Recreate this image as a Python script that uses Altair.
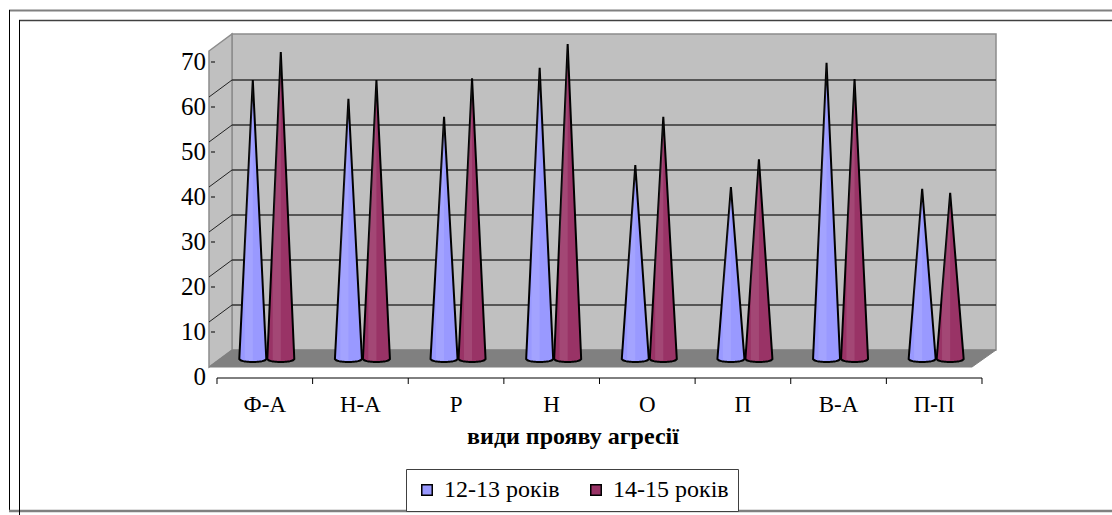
import altair as alt
import pandas as pd
import numpy as np

# ---------------- data ----------------
categories = ["Ф-А", "Н-А", "Р", "Н", "О", "П", "В-А", "П-П"]
series = ["12-13 років", "14-15 років"]
values_12_13 = [62.0, 57.8, 53.8, 64.7, 43.1, 38.2, 65.8, 37.8]
values_14_15 = [68.2, 62.0, 62.4, 70.0, 53.8, 44.4, 62.2, 36.9]
y_ticks = [0, 10, 20, 30, 40, 50, 60, 70]
colors = ["#9999FF", "#993366"]
x_title = "види прояву агресії"

# ---------------- layout ----------------
W, H = 1112, 515
CAT0, CATW = 264.8, 95.625      # pixel centre of first category, category width
Y0, PXU = 359.0, 4.5            # pixel of value 0 on the cone plane, pixels per unit
FONT = "Liberation Serif, Times New Roman, serif"


def X(px):
    return (px - CAT0) / CATW


def Y(py):
    return (Y0 - py) / PXU


xs = alt.Scale(domain=[X(0), X(W)], nice=False, zero=False)
ys = alt.Scale(domain=[Y(H), Y(0)], nice=False, zero=False)


def xenc(f):
    return alt.X(f, type="quantitative", scale=xs, axis=None)


def yenc(f):
    return alt.Y(f, type="quantitative", scale=ys, axis=None)


BACK = Y(350)       # back wall shift of value 0
FRONT = Y(367)      # front edge shift
LABEL_SHIFT = Y(377)

# ---------------- frame lines ----------------
frame = pd.DataFrame([
    dict(x=X(9), x2=X(W), y=Y(10.5), y2=Y(10.5), c="#808080", w=2),
    dict(x=X(9.5), x2=X(9.5), y=Y(10), y2=Y(511), c="#000000", w=1),
    dict(x=X(9), x2=X(W), y=Y(511), y2=Y(511), c="#808080", w=2.5),
    dict(x=X(19), x2=X(W), y=Y(20.5), y2=Y(20.5), c="#404040", w=1.5),
    dict(x=X(19.5), x2=X(19.5), y=Y(20), y2=Y(H), c="#000000", w=1),
])
frame_layer = alt.Chart(frame).mark_rule().encode(
    x=xenc("x"), x2="x2", y=yenc("y"), y2="y2",
    stroke=alt.Stroke("c:N", scale=None),
    strokeWidth=alt.StrokeWidth("w:Q", scale=None),
)

# ---------------- walls ----------------
back_wall = pd.DataFrame([dict(x=X(232), x2=X(996), y=Y(34), y2=Y(350))])
back_layer = alt.Chart(back_wall).mark_rect(
    fill="#C0C0C0", stroke="#8C8C8C", strokeWidth=1.5
).encode(x=xenc("x"), x2="x2", y=yenc("y"), y2="y2")

side_wall = pd.DataFrame([
    dict(x=X(209), y=Y(51), y2=Y(367)),
    dict(x=X(232), y=Y(34), y2=Y(350)),
])
side_layer = alt.Chart(side_wall).mark_area(
    fill="#C0C0C0", stroke="#8C8C8C", strokeWidth=1.5
).encode(x=xenc("x"), y=yenc("y"), y2="y2")

floor = pd.DataFrame([
    dict(y=Y(350), x=X(232), x2=X(996)),
    dict(y=Y(367), x=X(209), x2=X(972)),
])
floor_layer = alt.Chart(floor).mark_area(
    orient="horizontal", fill="#808080", stroke="#808080", strokeWidth=1
).encode(y=yenc("y"), x=xenc("x"), x2="x2")

# ---------------- gridlines ----------------
grid_vals = [v for v in y_ticks if 0 < v < 70]
grid = pd.DataFrame([dict(x=X(232), x2=X(996), y=v + BACK, y2=v + BACK) for v in grid_vals])
grid_layer = alt.Chart(grid).mark_rule(color="#333333", strokeWidth=1.4).encode(
    x=xenc("x"), x2="x2", y=yenc("y"), y2="y2")

diag = pd.DataFrame([dict(x=X(209), x2=X(232), y=v + FRONT, y2=v + BACK) for v in grid_vals])
diag_layer = alt.Chart(diag).mark_rule(color="#222222", strokeWidth=1).encode(
    x=xenc("x"), x2="x2", y=yenc("y"), y2="y2")

# ---------------- cones ----------------
OFF = [-12 / CATW, 16 / CATW]
HW = 13.5 / CATW
E = 3 / PXU
ts = np.linspace(-1, 1, 21)
rows = []
for s, vals in enumerate([values_12_13, values_14_15]):
    for i, v in enumerate(vals):
        for t in ts:
            rows.append(dict(
                cone=f"{s}-{i}", series=series[s],
                x=i + OFF[s] + t * HW,
                y=v * (1 - abs(t)),
                y2=-E * np.sqrt(max(0.0, 1 - t * t)),
            ))
cones = pd.DataFrame(rows)
cone_layer = alt.Chart(cones).mark_area(
    stroke="black", strokeWidth=2, opacity=1
).encode(
    x=xenc("x"), y=yenc("y"), y2="y2",
    color=alt.Color(
        "series:N",
        scale=alt.Scale(domain=series, range=colors),
        legend=alt.Legend(
            title=None, orient="none", legendX=406, legendY=469,
            direction="horizontal", symbolType="square", symbolSize=110,
            symbolStrokeColor="black", symbolStrokeWidth=1.5, symbolOpacity=1,
            labelFont=FONT, labelFontSize=24, labelColor="black",
            labelOffset=5, columnPadding=24, padding=9,
            strokeColor="#404040", fillColor="white", labelLimit=400,
        ),
    ),
    detail="cone:N",
)

# subtle highlight stripe on each cone (shading)
hl_rows = []
for s, vals in enumerate([values_12_13, values_14_15]):
    for i, v in enumerate(vals):
        for t in np.linspace(-0.6, 0.0, 7):
            hl_rows.append(dict(
                cone=f"{s}-{i}",
                x=i + OFF[s] + t * HW,
                y=v * (1 - abs(t)),
                y2=-E * np.sqrt(max(0.0, 1 - t * t)) * 0.5,
            ))
hl = pd.DataFrame(hl_rows)
hl_layer = alt.Chart(hl).mark_area(fill="white", fillOpacity=0.10).encode(
    x=xenc("x"), y=yenc("y"), y2="y2", detail="cone:N")

# ---------------- axes (drawn) ----------------
xaxis = pd.DataFrame([dict(x=X(217), x2=X(982), y=Y(378), y2=Y(378))]
                     + [dict(x=i - 0.5, x2=i - 0.5, y=Y(378), y2=Y(384)) for i in range(len(categories) + 1)])
xaxis_layer = alt.Chart(xaxis).mark_rule(color="black", strokeWidth=1).encode(
    x=xenc("x"), x2="x2", y=yenc("y"), y2="y2")

yt = pd.DataFrame([dict(x=X(211), x2=X(215), y=v + LABEL_SHIFT, y2=v + LABEL_SHIFT) for v in y_ticks if v > 0])
ytick_layer = alt.Chart(yt).mark_rule(color="black", strokeWidth=1).encode(
    x=xenc("x"), x2="x2", y=yenc("y"), y2="y2")

ylab = pd.DataFrame([dict(x=X(206), y=v + LABEL_SHIFT, t=str(v)) for v in y_ticks])
ylab_layer = alt.Chart(ylab).mark_text(
    align="right", baseline="middle", font=FONT, fontSize=25, color="black"
).encode(x=xenc("x"), y=yenc("y"), text="t:N")

xlab = pd.DataFrame([dict(x=i, y=Y(405), t=c) for i, c in enumerate(categories)])
xlab_layer = alt.Chart(xlab).mark_text(
    align="center", baseline="middle", font=FONT, fontSize=23, color="black"
).encode(x=xenc("x"), y=yenc("y"), text="t:N")

title_df = pd.DataFrame([dict(x=X(573), y=Y(437), t=x_title)])
title_layer = alt.Chart(title_df).mark_text(
    align="center", baseline="middle", font=FONT, fontSize=24, fontWeight="bold", color="black"
).encode(x=xenc("x"), y=yenc("y"), text="t:N")

chart = alt.layer(
    frame_layer, back_layer, side_layer, floor_layer, grid_layer, diag_layer,
    cone_layer, hl_layer, xaxis_layer, ytick_layer, ylab_layer, xlab_layer, title_layer,
).properties(
    width=W, height=H, padding=0, autosize="none", background="white"
).configure_view(stroke=None)

chart.save("out.html", embed_options={"renderer": "svg", "actions": False})
